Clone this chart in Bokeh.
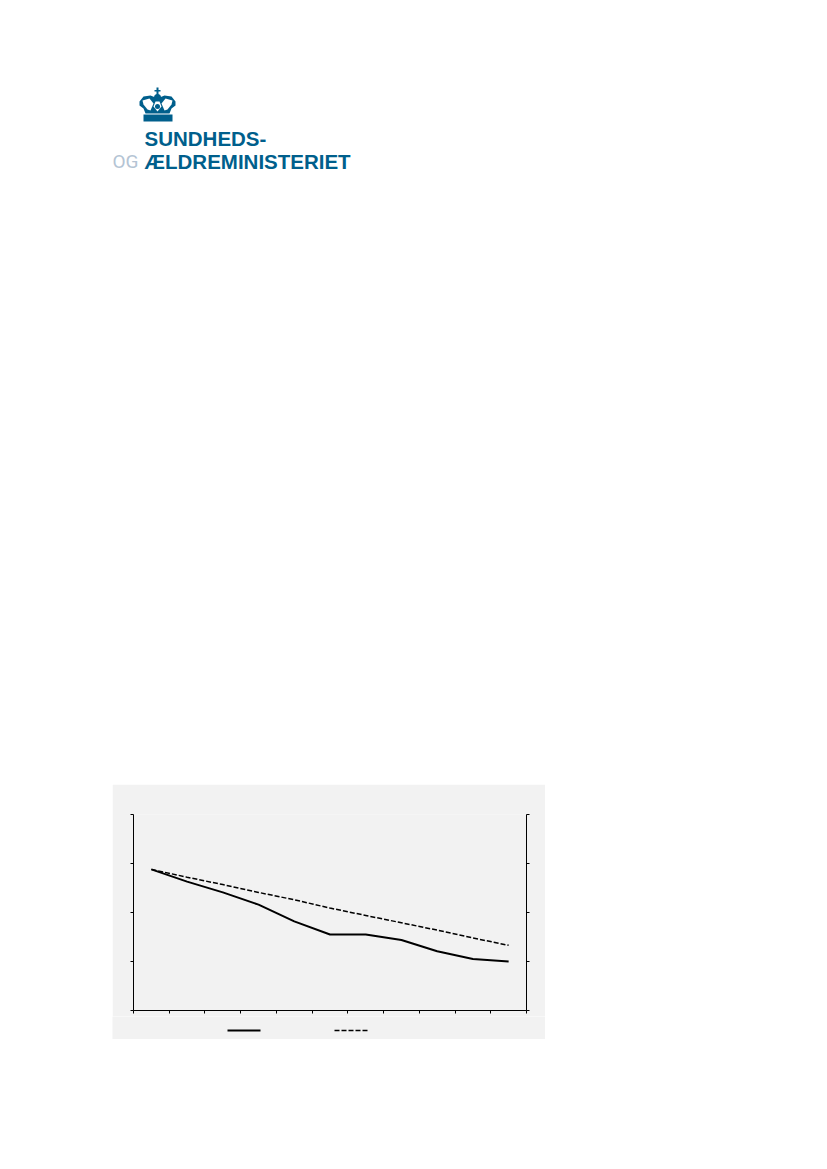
from bokeh.plotting import figure
from bokeh.layouts import column, row
from bokeh.models import Range1d, LinearAxis, FixedTicker, Spacer
from bokeh.core.properties import value
from bokeh.embed import file_html
from bokeh.resources import INLINE

# Values (y axis has four unlabelled intervals, x axis eleven)
categories = [0.5, 1.5, 2.5, 3.5, 4.5, 5.5, 6.5, 7.5, 8.5, 9.5, 10.5]
solid_series = [2.88, 2.63, 2.41, 2.16, 1.82, 1.55, 1.55, 1.44, 1.21, 1.05, 1.00]
dashed_series = [2.88, 2.72, 2.57, 2.41, 2.26, 2.09, 1.94, 1.79, 1.64, 1.48, 1.33]
x_ticks = list(range(12))
y_ticks = [0, 1, 2, 3, 4]

PANEL = "#f2f2f2"
BLUE = "#005f8c"
GREY = "#b4c4d4"

# ---------- chart ----------
p = figure(width=433, height=232, output_backend="svg", toolbar_location=None,
           x_range=Range1d(0, 11), y_range=Range1d(0, 4),
           min_border_left=21, min_border_right=19, min_border_top=30, min_border_bottom=6,
           background_fill_color=PANEL, border_fill_color=PANEL,
           outline_line_color=None, x_axis_type=None, y_axis_type=None)
p.grid.visible = False

def style(ax, ticks):
    ax.ticker = FixedTicker(ticks=ticks)
    ax.major_label_text_font_size = "0px"
    ax.major_label_text_color = None
    ax.minor_tick_line_color = None
    ax.major_tick_in = 0
    ax.major_tick_out = 3
    ax.axis_line_color = "black"
    ax.major_tick_line_color = "black"

for side in ("left", "right"):
    a = LinearAxis(); style(a, y_ticks); p.add_layout(a, side)
a = LinearAxis(); style(a, x_ticks); p.add_layout(a, "below")

SOLID = dict(line_color="black", line_width=2)
DASH = dict(line_color="black", line_width=1.5, line_dash="5 2")
p.line(categories, solid_series, **SOLID)
p.line(categories, dashed_series, **DASH)

# ---------- legend keys under the chart (their labels are blank in the reference) ----------
leg = figure(width=433, height=23, output_backend="svg", toolbar_location=None,
             x_range=Range1d(112, 545), y_range=Range1d(1039, 1016), min_border=0,
             background_fill_color=PANEL, border_fill_color=PANEL,
             outline_line_color=None, x_axis_type=None, y_axis_type=None)
leg.grid.visible = False
leg.line([227, 260], [1030, 1030], **SOLID)
leg.line([334, 367], [1030, 1030], **DASH)

# ---------- logo ----------
logo = figure(width=260, height=100, output_backend="svg", toolbar_location=None,
              x_range=Range1d(100, 360), y_range=Range1d(180, 80),
              min_border=0, outline_line_color=None, x_axis_type=None, y_axis_type=None,
              background_fill_color="white", border_fill_color="white")
logo.grid.visible = False

logo.text([144, 144], [138, 161], text=["SUNDHEDS-", "ÆLDREMINISTERIET"], text_color=BLUE,
          text_font=value("Liberation Sans"), text_font_style="bold", text_font_size="20.5px",
          text_baseline="alphabetic", text_align="left")
logo.text([112], [161], text=["OG"], text_color=GREY,
          text_font=value("Roboto"), text_font_size="19px",
          text_baseline="alphabetic", text_align="left")

crown_blue = [
    ([143, 172, 172, 143], [114, 114, 121, 121]),
    ([156, 158, 158, 156], [87, 87, 96, 96]),
    ([154, 160, 160, 154], [89.5, 89.5, 91, 91]),
    ([139, 143, 150, 155, 157, 159, 164, 171, 175, 175, 171, 169, 145, 143, 139],
     [101, 96, 95, 97, 98, 97, 95, 96, 101, 105, 108, 113, 113, 108, 105]),
]
crown_white = [
    ([142, 149, 153, 150, 147, 143], [100, 98, 103, 110, 109, 104]),
    ([172, 165, 161, 164, 167, 171], [100, 98, 103, 110, 109, 104]),
    ([155, 159, 161, 157, 153], [101, 101, 106, 111, 106]),
]
for xs, ys in crown_blue:
    logo.patch(xs, ys, fill_color=BLUE, line_color=None)
for xs, ys in crown_white:
    logo.patch(xs, ys, fill_color="white", line_color=None)
logo.circle([157], [97], radius=3.5, fill_color=BLUE, line_color=None)
logo.circle([157], [106], radius=2.5, fill_color=BLUE, line_color=None)

page = column(
    Spacer(height=80),
    row(Spacer(width=100), logo, spacing=0),
    Spacer(height=604),
    row(Spacer(width=112), p, spacing=0),
    row(Spacer(width=112), leg, spacing=0),
    spacing=0,
)
open("out.html", "w").write(file_html(page, INLINE))
